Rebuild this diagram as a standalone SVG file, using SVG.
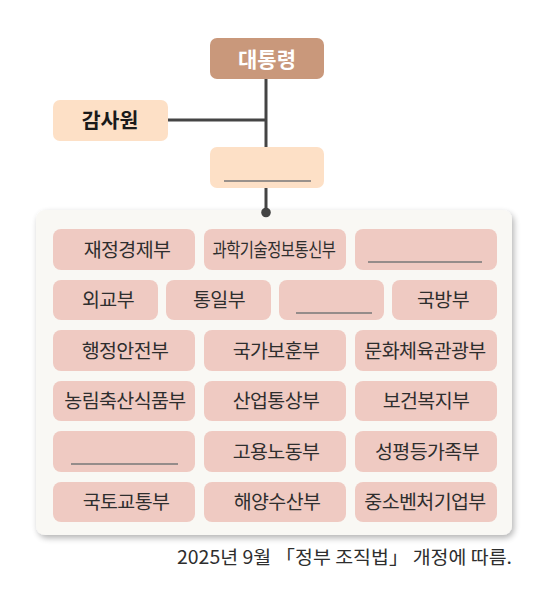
<svg xmlns="http://www.w3.org/2000/svg" width="559" height="598" viewBox="0 0 559 598">
<defs>
<style>
.t{font-family:"Noto Sans CJK KR","Noto Sans",sans-serif;}
.m{fill:#efcac2;}
.mt{font-size:19.5px;fill:#2e2e2e;text-anchor:middle;letter-spacing:-0.6px;}
.bl{stroke:#777;stroke-width:1.6;fill:none;}
.cn{stroke:#444;stroke-width:3;fill:none;}
</style>
<filter id="sh" x="-5%" y="-5%" width="112%" height="112%">
<feGaussianBlur in="SourceAlpha" stdDeviation="3"/>
<feOffset dx="2" dy="3"/>
<feComponentTransfer><feFuncA type="linear" slope="0.3"/></feComponentTransfer>
<feMerge><feMergeNode/><feMergeNode in="SourceGraphic"/></feMerge>
</filter>
</defs>
<rect width="559" height="598" fill="#ffffff"/>
<g id="connectors">
<line class="cn" x1="266" y1="78" x2="266" y2="148"/>
<line class="cn" x1="167" y1="120" x2="266" y2="120"/>
<line class="cn" x1="266" y1="187" x2="266" y2="212"/>
</g>
<g id="panel">
<rect x="36" y="210" width="476" height="325" rx="9" fill="#f9f8f4" filter="url(#sh)"/>
</g>
<circle cx="266" cy="212.5" r="4.8" fill="#444"/>
<g id="president">
<rect x="210" y="38" width="114" height="41" rx="7" fill="#c9987b"/>
<text class="t" x="267" y="66.5" font-size="21" font-weight="bold" fill="#ffffff" text-anchor="middle">대통령</text>
</g>
<g id="audit">
<rect x="53" y="100" width="115" height="41" rx="7" fill="#fde0c6"/>
<text class="t" x="110" y="128" font-size="20.5" font-weight="bold" fill="#1a1a1a" text-anchor="middle">감사원</text>
</g>
<g id="blank-office">
<rect x="210" y="147" width="114" height="41" rx="7" fill="#fde0c6"/>
<line class="bl" x1="224" y1="181" x2="311" y2="181"/>
</g>
<g id="r1c1"><rect class="m" x="53" y="229" width="142" height="41" rx="8"/><text class="t mt" x="127" y="256.5">재정경제부</text></g>
<g id="r1c2"><rect class="m" x="204" y="229" width="142" height="41" rx="8"/><text class="t mt" x="274" y="256.5" textLength="123" lengthAdjust="spacingAndGlyphs">과학기술정보통신부</text></g>
<g id="r1c3"><rect class="m" x="355" y="229" width="142" height="41" rx="8"/><line class="bl" x1="368" y1="262" x2="482" y2="262"/></g>
<g id="r2c1"><rect class="m" x="53" y="280" width="105" height="40" rx="8"/><text class="t mt" x="108" y="307">외교부</text></g>
<g id="r2c2"><rect class="m" x="166" y="280" width="105" height="40" rx="8"/><text class="t mt" x="219" y="307">통일부</text></g>
<g id="r2c3"><rect class="m" x="279" y="280" width="105" height="40" rx="8"/><line class="bl" x1="296" y1="313" x2="372" y2="313"/></g>
<g id="r2c4"><rect class="m" x="392" y="280" width="105" height="40" rx="8"/><text class="t mt" x="443" y="307">국방부</text></g>
<g id="r3c1"><rect class="m" x="53" y="330" width="142" height="41" rx="8"/><text class="t mt" x="125" y="357.5">행정안전부</text></g>
<g id="r3c2"><rect class="m" x="204" y="330" width="142" height="41" rx="8"/><text class="t mt" x="276" y="357.5">국가보훈부</text></g>
<g id="r3c3"><rect class="m" x="355" y="330" width="142" height="41" rx="8"/><text class="t mt" x="425" y="357.5">문화체육관광부</text></g>
<g id="r4c1"><rect class="m" x="53" y="381" width="142" height="40" rx="8"/><text class="t mt" x="125" y="408">농림축산식품부</text></g>
<g id="r4c2"><rect class="m" x="204" y="381" width="142" height="40" rx="8"/><text class="t mt" x="276" y="408">산업통상부</text></g>
<g id="r4c3"><rect class="m" x="355" y="381" width="142" height="40" rx="8"/><text class="t mt" x="426" y="408">보건복지부</text></g>
<g id="r5c1"><rect class="m" x="53" y="431" width="142" height="41" rx="8"/><line class="bl" x1="71" y1="464" x2="178" y2="464"/></g>
<g id="r5c2"><rect class="m" x="204" y="431" width="142" height="41" rx="8"/><text class="t mt" x="276" y="458.5">고용노동부</text></g>
<g id="r5c3"><rect class="m" x="355" y="431" width="142" height="41" rx="8"/><text class="t mt" x="427" y="458.5">성평등가족부</text></g>
<g id="r6c1"><rect class="m" x="53" y="482" width="142" height="40" rx="8"/><text class="t mt" x="126" y="509">국토교통부</text></g>
<g id="r6c2"><rect class="m" x="204" y="482" width="142" height="40" rx="8"/><text class="t mt" x="277" y="509">해양수산부</text></g>
<g id="r6c3"><rect class="m" x="355" y="482" width="142" height="40" rx="8"/><text class="t mt" x="425" y="509">중소벤처기업부</text></g>
<text class="t" x="512" y="564" font-size="18.5" fill="#2e2e2e" text-anchor="end" textLength="335" lengthAdjust="spacingAndGlyphs">2025년 9월 「정부 조직법」 개정에 따름.</text>
</svg>
